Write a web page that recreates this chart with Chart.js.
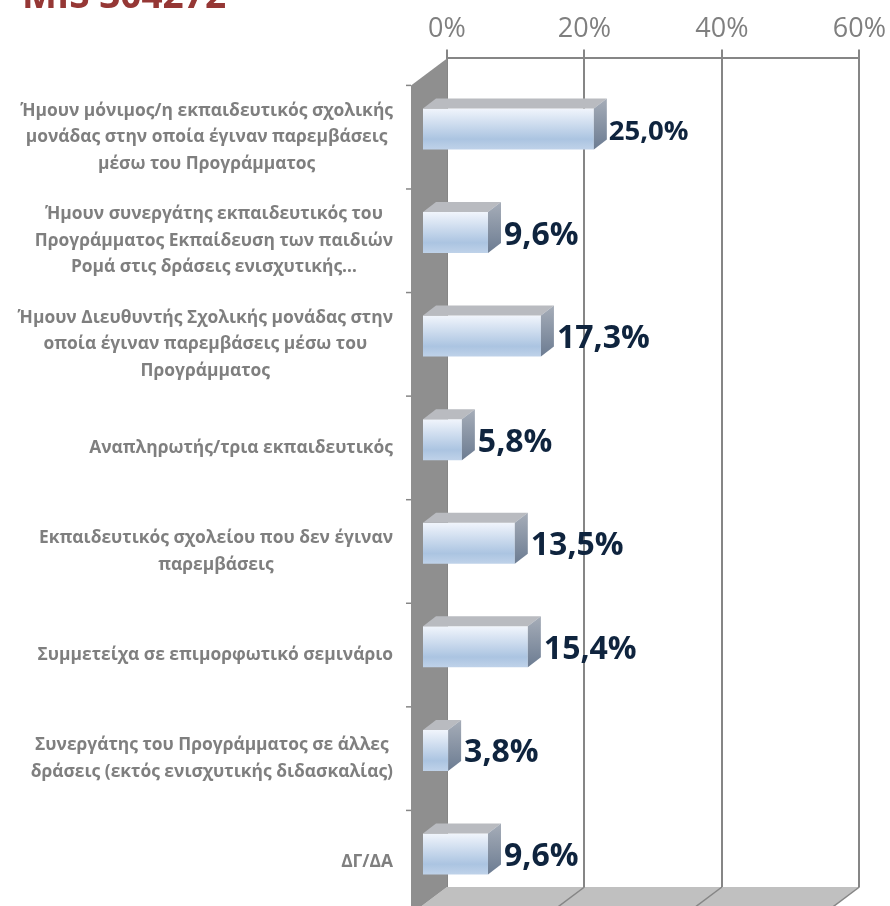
<!DOCTYPE html>
<html><head><meta charset="utf-8">
<style>html,body{margin:0;padding:0;background:#fff}canvas{display:block}</style>
<script src="https://cdn.jsdelivr.net/npm/chart.js@4"></script>
</head><body><canvas id="c" width="890" height="906"></canvas>
<script>
const titleText = "MIS 304272";
const categories = [
 ["Ήμουν μόνιμος/η εκπαιδευτικός σχολικής","μονάδας στην οποία έγιναν παρεμβάσεις","μέσω του Προγράμματος"],
 ["Ήμουν συνεργάτης εκπαιδευτικός του","Προγράμματος Εκπαίδευση των παιδιών","Ρομά στις δράσεις ενισχυτικής…"],
 ["Ήμουν Διευθυντής Σχολικής μονάδας στην","οποία έγιναν παρεμβάσεις μέσω του","Προγράμματος"],
 ["Αναπληρωτής/τρια εκπαιδευτικός"],
 ["Εκπαιδευτικός σχολείου που δεν έγιναν","παρεμβάσεις"],
 ["Συμμετείχα σε επιμορφωτικό σεμινάριο"],
 ["Συνεργάτης του Προγράμματος σε άλλες","δράσεις (εκτός ενισχυτικής διδασκαλίας)"],
 ["ΔΓ/ΔΑ"]
];
const values = [25.0, 9.6, 17.3, 5.8, 13.5, 15.4, 3.8, 9.6];
const axisMax = 60, axisStep = 20;

const FONT = '"Open Sans"';
const DEPTH = {dx:36, dy:27};
const BAR_SHIFT = {dx:-25, dy:18.75};
const BAR_DEPTH = {dx:13, dy:10};
const GRID = '#868686';

function poly(ctx, pts, fill){
  ctx.beginPath();
  pts.forEach((p,i)=> i?ctx.lineTo(p[0],p[1]):ctx.moveTo(p[0],p[1]));
  ctx.closePath(); ctx.fillStyle = fill; ctx.fill();
}
const scene = {
  id:'scene',
  beforeDatasetsDraw(chart){
    const {ctx, chartArea:a, scales:{x}} = chart;
    const {dx,dy} = DEPTH;
    ctx.save();
    poly(ctx,[[a.left,a.bottom],[a.right,a.bottom],[a.right-dx,a.bottom+dy],[a.left-dx,a.bottom+dy]],'#c0c0c0');
    ctx.strokeStyle = GRID; ctx.lineWidth = 1.5;
    for(let v=axisStep;v<=axisMax;v+=axisStep){
      const px = x.getPixelForValue(v);
      ctx.beginPath(); ctx.moveTo(px,a.bottom); ctx.lineTo(px-dx,a.bottom+dy); ctx.stroke();
    }
    poly(ctx,[[a.left,a.top],[a.left,a.bottom],[a.left-dx,a.bottom+dy],[a.left-dx,a.top+dy]],'#8f8f8f');
    ctx.lineWidth = 1.5;
    for(let i=0;i<=categories.length;i++){
      const y = a.top + dy + (a.bottom-a.top)*i/categories.length;
      ctx.beginPath(); ctx.moveTo(a.left-dx-5,y); ctx.lineTo(a.left-dx,y); ctx.stroke();
    }
    ctx.restore();
    ctx.save();
    ctx.translate(BAR_SHIFT.dx,BAR_SHIFT.dy);
  },
  afterDatasetsDraw(chart){
    chart.ctx.restore();
    const {ctx, scales:{y}} = chart;
    const meta = chart.getDatasetMeta(0);
    ctx.save();
    meta.data.forEach((el,i)=>{
      const p = el.getProps(['x','y','base','height'],true);
      const x0 = p.base+BAR_SHIFT.dx, x1 = p.x+BAR_SHIFT.dx;
      const top = p.y-p.height/2+BAR_SHIFT.dy, bot = p.y+p.height/2+BAR_SHIFT.dy;
      const bx = BAR_DEPTH.dx, by = BAR_DEPTH.dy;
      poly(ctx,[[x0,top],[x1,top],[x1+bx,top-by],[x0+bx,top-by]],'#b9bbc0');
      const g = ctx.createLinearGradient(0,top-by,0,bot);
      g.addColorStop(0,'#a6adb8'); g.addColorStop(1,'#6c7c92');
      poly(ctx,[[x1,top],[x1+bx,top-by],[x1+bx,bot-by],[x1,bot]],g);
      ctx.fillStyle = '#0f243e';
      ctx.font = 'bold '+(i===0?27.5:32)+'px '+FONT;
      ctx.textAlign='left'; ctx.textBaseline='middle';
      ctx.fillText(values[i].toFixed(1).replace('.',',')+'%', x1+bx+(i===0?2:3), (top+bot)/2+3);
    });
    ctx.font = 'bold 17.4px '+FONT;
    ctx.fillStyle = '#7f7f7f';
    ctx.textBaseline='middle'; ctx.textAlign='center';
    const rightEdge = 393, lh = 26.5;
    categories.forEach((lines,i)=>{
      const cy = y.getPixelForValue(i)+DEPTH.dy;
      const w = Math.max(...lines.map(l=>ctx.measureText(l).width));
      const cx = rightEdge-w/2;
      lines.forEach((l,k)=>ctx.fillText(l,cx,cy+(k-(lines.length-1)/2)*lh));
    });
    ctx.font='bold 37px '+FONT;
    ctx.fillStyle='#953735';
    ctx.textAlign='left'; ctx.textBaseline='alphabetic';
    ctx.fillText(titleText,22,8);
    ctx.restore();
  }
};

new Chart(document.getElementById('c'),{
  type:'bar',
  plugins:[scene],
  data:{
    labels:categories,
    datasets:[{
      data:values,
      barPercentage:0.396,
      categoryPercentage:1,
      clip:false,
      borderWidth:0,
      backgroundColor(c){
        const {chart,dataIndex} = c;
        if(!chart.chartArea || dataIndex===undefined) return '#c8d8ec';
        const py = chart.scales.y.getPixelForValue(dataIndex);
        const g = chart.ctx.createLinearGradient(0,py-20.5,0,py+20.5);
        g.addColorStop(0,'#f1f5fc');
        g.addColorStop(0.75,'#abc4e1');
        g.addColorStop(1,'#bfd2e9');
        return g;
      }
    }]
  },
  options:{
    indexAxis:'y',
    responsive:false,
    animation:false,
    layout:{padding:{left:439,right:27,top:9,bottom:19}},
    plugins:{legend:{display:false},tooltip:{enabled:false},title:{display:false}},
    scales:{
      x:{
        position:'top',
        min:0,max:axisMax,
        ticks:{stepSize:axisStep,color:'#7f7f7f',font:{family:FONT,size:27},padding:4,maxRotation:0,
               callback:v=>v+'%'},
        grid:{color:GRID,lineWidth:2,tickLength:9,drawOnChartArea:true},
        border:{color:GRID,width:2}
      },
      y:{
        ticks:{display:false},
        grid:{display:false},
        border:{display:false}
      }
    }
  }
});
</script>
</body></html>
